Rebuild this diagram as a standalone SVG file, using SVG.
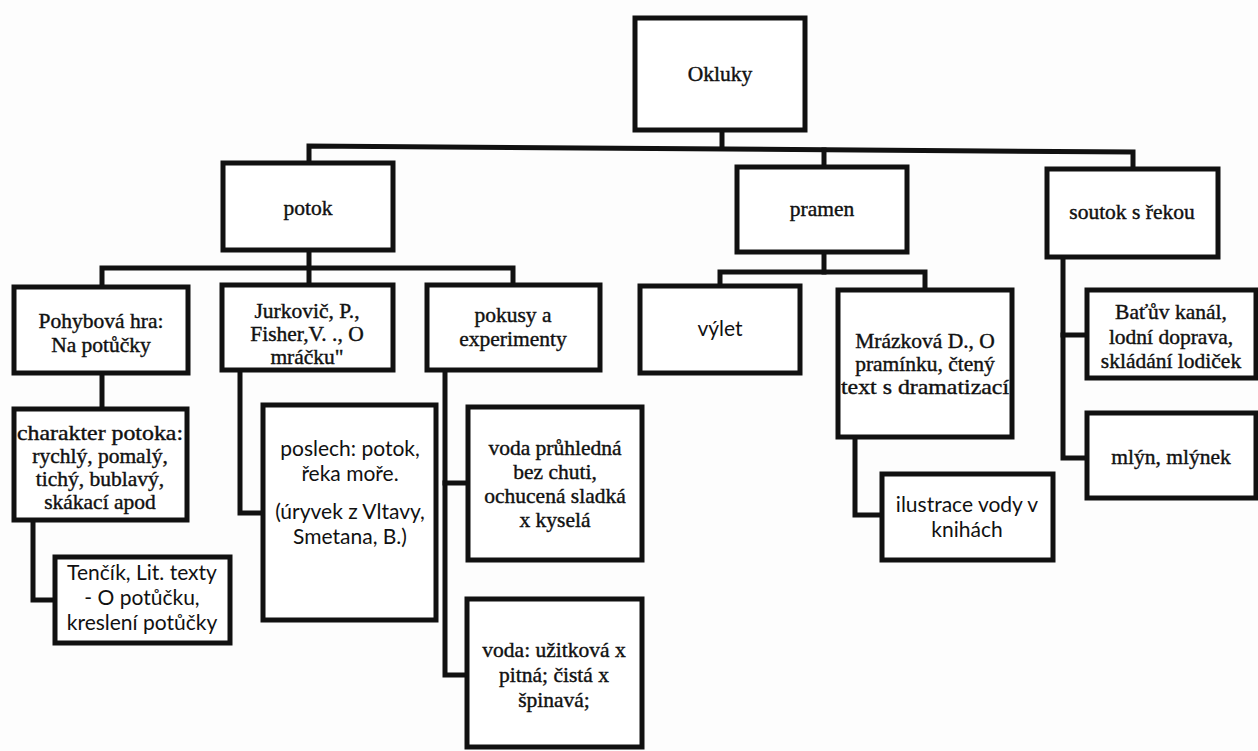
<svg xmlns="http://www.w3.org/2000/svg" width="1258" height="751" viewBox="0 0 1258 751">
<style>
.box{fill:#fff;stroke:#111;stroke-width:5}
.c{fill:none;stroke:#111;stroke-width:5;stroke-linejoin:miter;stroke-linecap:square}
.s{font-family:"Liberation Serif","Times New Roman",serif;font-size:21.5px;fill:#111;stroke:#111;stroke-width:0.4;text-anchor:middle}
.ss{font-family:Lato,"Liberation Sans",sans-serif;font-size:21px;fill:#111;text-anchor:middle}
</style>
<rect width="1258" height="751" fill="#fdfdfd"/>
<g id="connectors">
<polyline class="c" points="722,130 722,147"/>
<polyline class="c" points="309,163 309,146 1133,152 1133,169"/>
<polyline class="c" points="824,150 824,167"/>
<polyline class="c" points="309,250 309,285"/>
<polyline class="c" points="102,287 102,268 513,268 513,285"/>
<polyline class="c" points="824,252 824,272"/>
<polyline class="c" points="720,286 720,272 925,272 925,290"/>
<polyline class="c" points="102,373 102,409"/>
<polyline class="c" points="33,520 33,600 55,600"/>
<polyline class="c" points="240,370 240,513 263,513"/>
<polyline class="c" points="445,370 445,675 467,675"/>
<polyline class="c" points="445,483 468,483"/>
<polyline class="c" points="855,437 855,515 882,515"/>
<polyline class="c" points="1063,257 1063,458 1087,458"/>
<polyline class="c" points="1063,335 1087,335"/>
</g>
<g id="okluky"><rect class="box" x="635" y="18" width="170" height="112"/><text class="s" x="720" y="81">Okluky</text></g>
<g id="potok"><rect class="box" x="223" y="163" width="170" height="87"/><text class="s" x="308" y="215">potok</text></g>
<g id="pramen"><rect class="box" x="737" y="167" width="170" height="85"/><text class="s" x="822" y="216">pramen</text></g>
<g id="soutok"><rect class="box" x="1047" y="169" width="171" height="88"/><text class="s" x="1132" y="219">soutok s řekou</text></g>
<g id="pohybova"><rect class="box" x="14" y="287" width="174" height="86"/><text class="s" x="101" y="328">Pohybová hra:</text><text class="s" x="101" y="352">Na potůčky</text></g>
<g id="jurkovic"><rect class="box" x="222" y="285" width="171" height="85"/><text class="s" x="307" y="318">Jurkovič, P.,</text><text class="s" x="307" y="341">Fisher,V. ., O</text><text class="s" x="307" y="364">mráčku"</text></g>
<g id="pokusy"><rect class="box" x="427" y="285" width="173" height="85"/><text class="s" x="513" y="322">pokusy a</text><text class="s" x="513" y="346">experimenty</text></g>
<g id="vylet"><rect class="box" x="640" y="286" width="160" height="87"/><text class="ss" x="720" y="336">výlet</text></g>
<g id="mrazkova"><rect class="box" x="838" y="290" width="174" height="147"/><text class="s" x="925" y="348">Mrázková D., O</text><text class="s" x="925" y="371">pramínku, čtený</text><text class="s" x="925" y="394" textLength="168" lengthAdjust="spacingAndGlyphs">text s dramatizací</text></g>
<g id="batuv"><rect class="box" x="1087" y="290" width="169" height="88"/><text class="s" x="1171" y="319">Baťův kanál,</text><text class="s" x="1171" y="344">lodní doprava,</text><text class="s" x="1171" y="368">skládání lodiček</text></g>
<g id="mlyn"><rect class="box" x="1087" y="413" width="169" height="85"/><text class="s" x="1171" y="464">mlýn, mlýnek</text></g>
<g id="charakter"><rect class="box" x="14" y="409" width="173" height="111"/><text class="s" x="100" y="440" textLength="166" lengthAdjust="spacingAndGlyphs">charakter potoka:</text><text class="s" x="100" y="463">rychlý, pomalý,</text><text class="s" x="100" y="486">tichý, bublavý,</text><text class="s" x="100" y="509">skákací apod</text></g>
<g id="poslech"><rect class="box" x="263" y="405" width="173" height="215"/><text class="ss" x="350" y="456">poslech: potok,</text><text class="ss" x="350" y="481">řeka moře.</text><text class="ss" x="350" y="519">(úryvek z Vltavy,</text><text class="ss" x="350" y="544">Smetana, B.)</text></g>
<g id="voda-pruhledna"><rect class="box" x="468" y="407" width="174" height="153"/><text class="s" x="555" y="455">voda průhledná</text><text class="s" x="555" y="479">bez chuti,</text><text class="s" x="555" y="503">ochucená sladká</text><text class="s" x="555" y="527">x kyselá</text></g>
<g id="ilustrace"><rect class="box" x="882" y="474" width="171" height="86"/><text class="ss" x="967" y="512">ilustrace vody v</text><text class="ss" x="967" y="537">knihách</text></g>
<g id="tencik"><rect class="box" x="55" y="557" width="175" height="86"/><text class="ss" x="142" y="580">Tenčík, Lit. texty</text><text class="ss" x="142" y="605">- O potůčku,</text><text class="ss" x="142" y="630">kreslení potůčky</text></g>
<g id="voda-uzitkova"><rect class="box" x="467" y="599" width="175" height="148"/><text class="s" x="554" y="657">voda: užitková x</text><text class="s" x="554" y="682">pitná; čistá x</text><text class="s" x="554" y="707">špinavá;</text></g>
</svg>
